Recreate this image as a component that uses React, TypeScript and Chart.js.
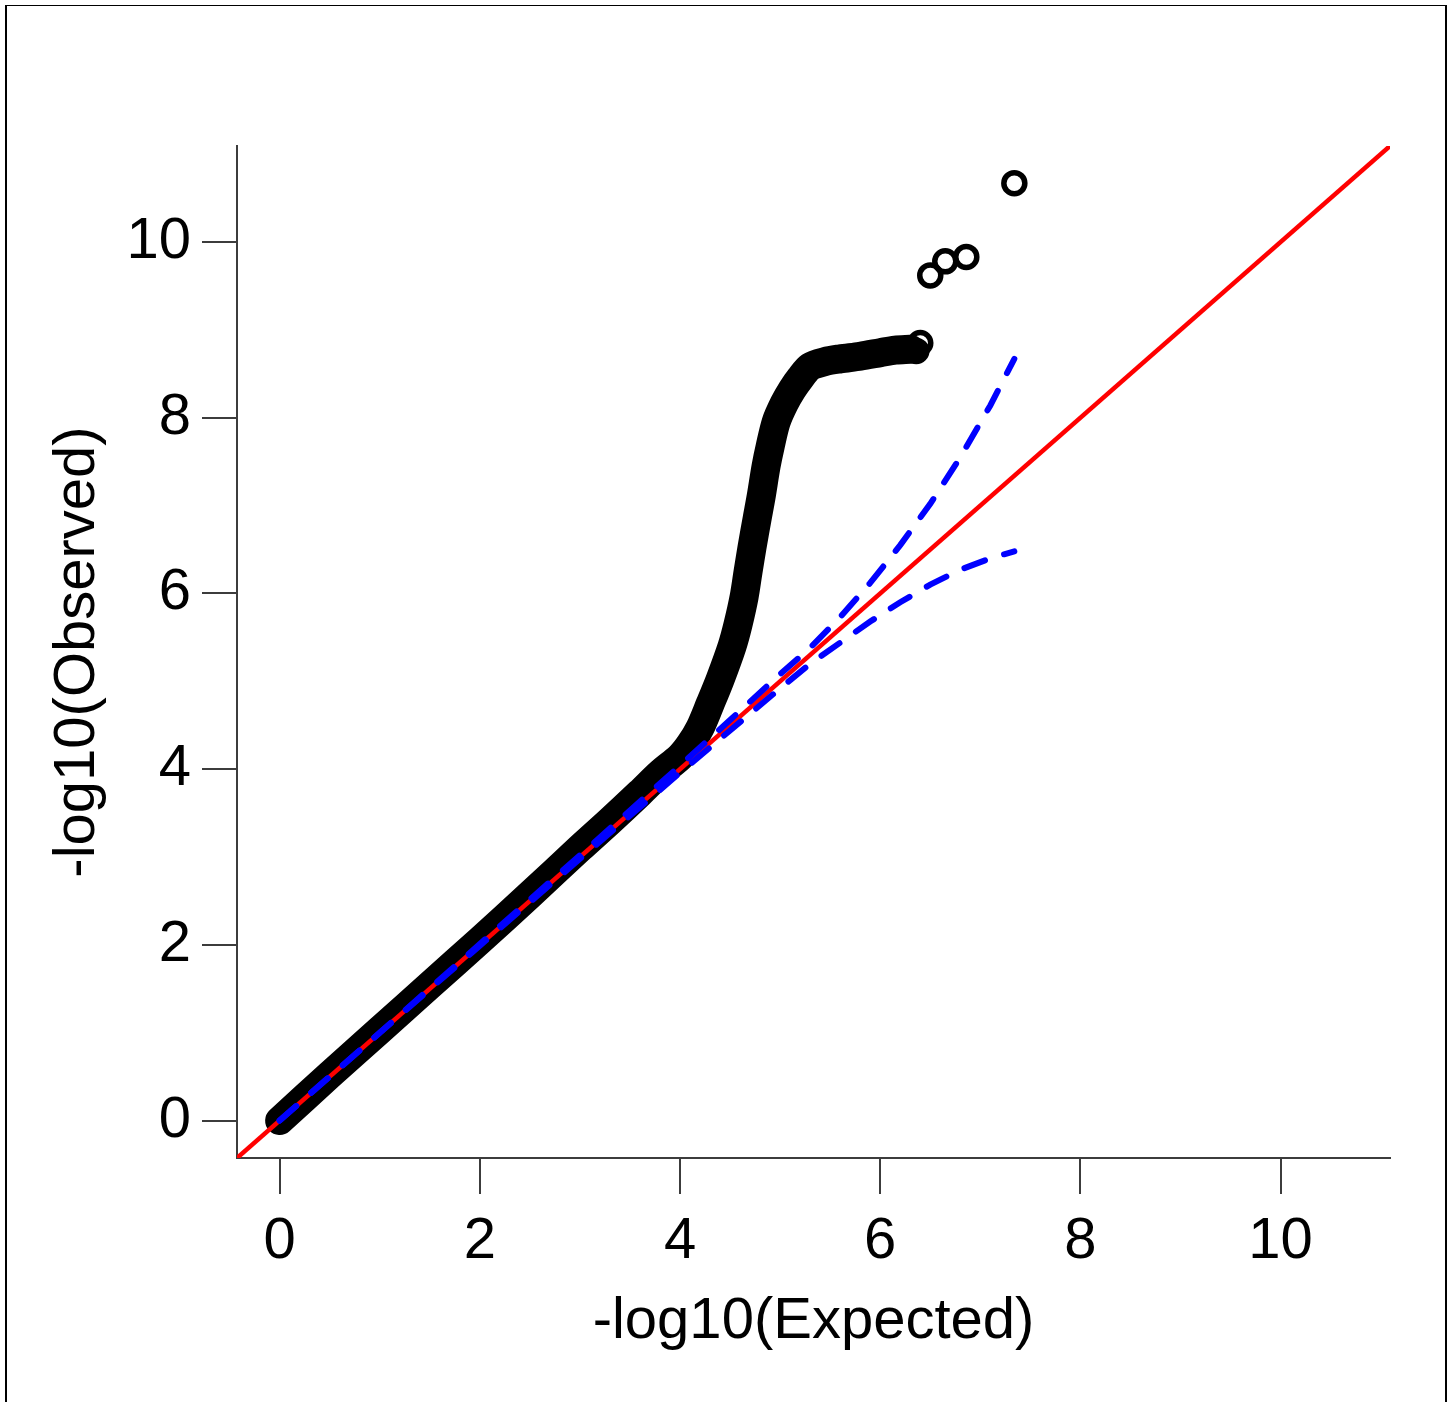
import React, { useEffect, useRef } from 'react';
import Chart from 'chart.js/auto';

// Axis range (R-style 4% extension around 0..10.67)
const AXIS_MIN = -0.426;
const AXIS_MAX = 11.093;
const xTicks = [0, 2, 4, 6, 8, 10];
const yTicks = [0, 2, 4, 6, 8, 10];
const xTitle = '-log10(Expected)';
const yTitle = '-log10(Observed)';

// Dense body of observed quantiles (read along the centre of the black band)
const bodyExpected = [0, 0.5, 1, 1.5, 2, 2.5, 3, 3.3, 3.6, 3.8, 4.0, 4.1, 4.2, 4.3, 4.4, 4.52, 4.58, 4.64, 4.68, 4.72, 4.77, 4.81, 4.86, 4.9, 4.96, 5.04, 5.12, 5.2, 5.3, 5.45, 5.6, 5.8, 6.0, 6.15, 6.3];
const bodyObserved = [0, 0.52, 1.03, 1.54, 2.05, 2.57, 3.1, 3.41, 3.73, 3.95, 4.14, 4.28, 4.47, 4.74, 5.02, 5.4, 5.65, 5.96, 6.25, 6.53, 6.85, 7.1, 7.45, 7.67, 7.95, 8.16, 8.32, 8.45, 8.58, 8.64, 8.67, 8.7, 8.74, 8.77, 8.78];

// Top hits (separately visible open circles)
const tailExpected = [6.36, 6.4, 6.5, 6.65, 6.86, 7.34];
const tailObserved = [8.76, 8.85, 9.62, 9.78, 9.83, 10.67];

// 95% confidence band
const bandExpected = [0, 1, 2, 3, 4, 4.5, 5, 5.3, 5.6, 5.9, 6.2, 6.5, 6.8, 7.1, 7.34];
const bandUpper = [0, 1.0, 2.01, 3.02, 4.04, 4.56, 5.08, 5.38, 5.73, 6.12, 6.55, 7.02, 7.55, 8.14, 8.67];
const bandLower = [0, 1.0, 1.99, 2.98, 3.96, 4.44, 4.92, 5.2, 5.44, 5.68, 5.9, 6.1, 6.27, 6.4, 6.48];

const FONT = '"Liberation Sans", Arial, Helvetica, sans-serif';
const AXIS_COLOR = '#3c3c3c';

const pts = (xs: number[], ys: number[]) => xs.map((x, i) => ({ x, y: ys[i] }));

export default function App() {
  const ref = useRef<HTMLCanvasElement | null>(null);

  useEffect(() => {
    if (!ref.current) return;
    const chart = new Chart(ref.current, {
      type: 'scatter',
      data: {
        datasets: [
          {
            label: 'upper',
            data: pts(bandExpected, bandUpper),
            showLine: true,
            borderColor: '#0000ff',
            borderWidth: 6,
            borderDash: [22, 20],
            borderCapStyle: 'round',
            pointRadius: 0,
            order: 0,
          },
          {
            label: 'lower',
            data: pts(bandExpected, bandLower),
            showLine: true,
            borderColor: '#0000ff',
            borderWidth: 6,
            borderDash: [22, 20],
            borderCapStyle: 'round',
            pointRadius: 0,
            order: 0,
          },
          {
            label: 'y = x',
            data: [
              { x: AXIS_MIN, y: AXIS_MIN },
              { x: AXIS_MAX, y: AXIS_MAX },
            ],
            showLine: true,
            borderColor: '#ff0000',
            borderWidth: 4.5,
            pointRadius: 0,
            order: 1,
          },
          {
            label: 'observed',
            data: pts(bodyExpected, bodyObserved),
            showLine: true,
            tension: 0.3,
            borderColor: '#000',
            backgroundColor: '#000',
            borderWidth: 29,
            borderCapStyle: 'round',
            borderJoinStyle: 'round',
            pointRadius: 11,
            pointBorderWidth: 5.5,
            pointBorderColor: '#000',
            pointBackgroundColor: 'rgba(0,0,0,0)',
            order: 2,
          } as any,
          {
            label: 'top',
            data: pts(tailExpected, tailObserved),
            showLine: false,
            pointRadius: 10.5,
            pointBorderWidth: 5.5,
            pointBorderColor: '#000',
            pointBackgroundColor: 'rgba(0,0,0,0)',
            order: 3,
          },
        ],
      },
      options: {
        animation: false,
        responsive: false,
        maintainAspectRatio: false,
        layout: { padding: { left: 0, top: 146, right: 62, bottom: 0 } },
        plugins: {
          legend: { display: false },
          tooltip: { enabled: false },
        },
        scales: {
          x: {
            type: 'linear',
            position: 'bottom',
            min: AXIS_MIN,
            max: AXIS_MAX,
            afterFit: (s: any) => {
              s.height = 244;
            },
            afterBuildTicks: (s: any) => {
              s.ticks = xTicks.map((v) => ({ value: v }));
            },
            grid: {
              drawOnChartArea: false,
              drawTicks: true,
              tickLength: 36,
              color: AXIS_COLOR,
              lineWidth: 2,
            },
            border: { display: true, color: AXIS_COLOR, width: 2 },
            ticks: {
              padding: 13,
              color: '#000',
              font: { family: FONT, size: 58 },
              maxRotation: 0,
              autoSkip: false,
              callback: (v: any) => String(v),
            },
            title: {
              display: true,
              text: xTitle,
              color: '#000',
              font: { family: FONT, size: 58 },
              padding: { top: 0, bottom: 45 },
            },
          },
          y: {
            type: 'linear',
            position: 'left',
            min: AXIS_MIN,
            max: AXIS_MAX,
            afterFit: (s: any) => {
              s.width = 237;
            },
            afterBuildTicks: (s: any) => {
              s.ticks = yTicks.map((v) => ({ value: v }));
            },
            grid: {
              drawOnChartArea: false,
              drawTicks: true,
              tickLength: 35,
              color: AXIS_COLOR,
              lineWidth: 2,
            },
            border: { display: true, color: AXIS_COLOR, width: 2 },
            ticks: {
              padding: 11,
              color: '#000',
              font: { family: FONT, size: 58 },
              autoSkip: false,
              callback: (v: any) => String(v),
            },
            title: {
              display: true,
              text: yTitle,
              color: '#000',
              font: { family: FONT, size: 58 },
              padding: { top: 43, bottom: 0 },
            },
          },
        },
      },
    });
    return () => chart.destroy();
  }, []);

  return (
    <div style={{ position: 'absolute', left: 0, top: 0, width: 1452, height: 1402, background: '#fff', overflow: 'hidden' }}>
      <canvas ref={ref} width={1452} height={1402} style={{ position: 'absolute', left: 0, top: 0, width: 1452, height: 1402 }} />
      <div
        style={{
          position: 'absolute',
          left: 5,
          top: 5,
          width: 1438,
          height: 1400,
          borderLeft: '2px solid #000',
          borderTop: '1px solid #000',
          borderRight: '2px solid #000',
          pointerEvents: 'none',
        }}
      />
    </div>
  );
}
